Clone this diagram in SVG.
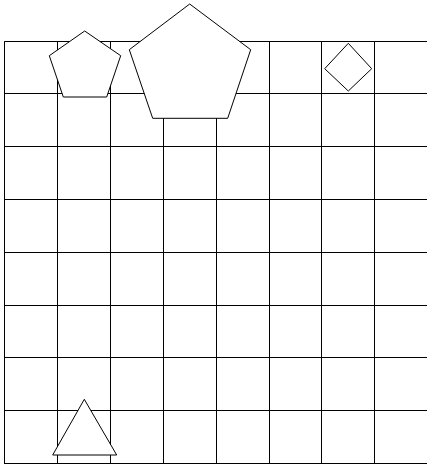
<svg xmlns="http://www.w3.org/2000/svg" width="427" height="464" viewBox="0 0 427 464">
<style>
.g{stroke:#000;stroke-width:1;fill:none}
.s{stroke:#000;stroke-width:1;fill:#fff}
</style>
<rect width="427" height="464" fill="#fff"/>
<g id="grid" class="g">
<line x1="4.5" y1="41.3" x2="4.5" y2="464"/>
<line x1="57.5" y1="41.3" x2="57.5" y2="464"/>
<line x1="110.5" y1="41.3" x2="110.5" y2="464"/>
<line x1="163.5" y1="41.3" x2="163.5" y2="464"/>
<line x1="216.5" y1="41.3" x2="216.5" y2="464"/>
<line x1="269.5" y1="41.3" x2="269.5" y2="464"/>
<line x1="321.5" y1="41.3" x2="321.5" y2="464"/>
<line x1="374.5" y1="41.3" x2="374.5" y2="464"/>
<line x1="4.5" y1="41.5" x2="427" y2="41.5"/>
<line x1="4.5" y1="93.5" x2="427" y2="93.5"/>
<line x1="4.5" y1="146.5" x2="427" y2="146.5"/>
<line x1="4.5" y1="199.5" x2="427" y2="199.5"/>
<line x1="4.5" y1="252.5" x2="427" y2="252.5"/>
<line x1="4.5" y1="305.5" x2="427" y2="305.5"/>
<line x1="4.5" y1="357.5" x2="427" y2="357.5"/>
<line x1="4.5" y1="410.5" x2="427" y2="410.5"/>
<line x1="4.5" y1="463.5" x2="427" y2="463.5"/>
</g>
<g id="pentagon-small"><polygon class="s" points="84.7,31 120.7,55.7 106.7,97 63.3,97 49.3,55.7"/></g>
<g id="pentagon-large"><polygon class="s" points="189.7,4 250.7,49.7 227.7,118.3 152.7,118.3 129.3,49.7"/></g>
<g id="diamond"><polygon class="s" points="348.3,43.3 371.7,68.7 348.3,91 324.7,68.7"/></g>
<g id="triangle"><polygon class="s" points="84.3,399.3 116.7,455 52.7,455"/></g>
</svg>
